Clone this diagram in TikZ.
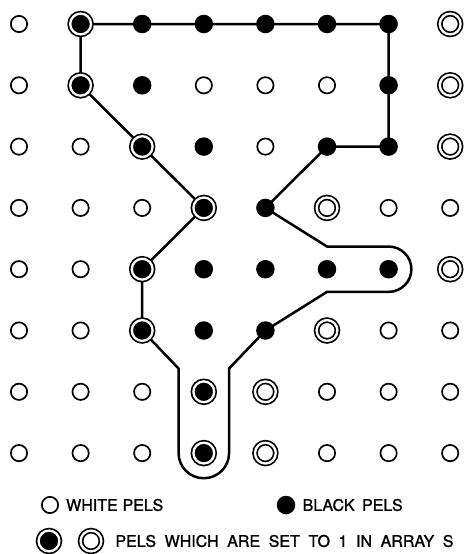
\documentclass[tikz,border=0pt]{standalone}
\usepackage{fontspec}
\newfontfamily\pelfont[FakeBold=1.2]{TeX Gyre Heros}
\usetikzlibrary{positioning,backgrounds}

\begin{document}
\begin{tikzpicture}[
    every node/.style={inner sep=0pt},
    wpel/.style={circle,draw,line width=1.7pt,minimum size=16.3pt},
    bpel/.style={circle,fill=black,minimum size=18.5pt},
    sbpel/.style={circle,draw,double=white,line width=1.7pt,double distance=2.3pt,
      fill=black,minimum size=20.8pt},
    swpel/.style={sbpel,fill=white},
    contour/.style={line width=2.5pt,line join=round},
    legtext/.style={font=\pelfont\fontsize{16}{19}\selectfont,anchor=west},
  ]
  \useasboundingbox (0,0) rectangle (466pt,-554pt);
  % pel array
  \begin{scope}[shift={(19pt,-24pt)},x=61.6pt,y=-61.3pt]
    \foreach \r/\row in {
        0/{wpel,sbpel,bpel,bpel,bpel,bpel,bpel,swpel},
        1/{wpel,sbpel,bpel,wpel,wpel,wpel,bpel,swpel},
        2/{wpel,wpel,sbpel,bpel,wpel,bpel,bpel,swpel},
        3/{wpel,wpel,wpel,sbpel,bpel,swpel,wpel,wpel},
        4/{wpel,wpel,sbpel,bpel,bpel,bpel,bpel,swpel},
        5/{wpel,wpel,sbpel,bpel,bpel,swpel,wpel,wpel},
        6/{wpel,wpel,wpel,sbpel,swpel,wpel,wpel,wpel},
        7/{wpel,wpel,wpel,sbpel,swpel,wpel,wpel,wpel}}
      \foreach \t [count=\c from 0] in \row
        \node[\t] (p\c\r) at (\c,\r) {};
    \coordinate (capa) at (5,3.63);
    \coordinate (capb) at (6,3.63);
    \coordinate (capc) at (5,4.37);
    \coordinate (tuba) at (3.41,5.62);
    \coordinate (tubb) at (3.41,7);
    \coordinate (tubc) at (2.59,5.62);
    \begin{pgfonlayer}{background}
      \draw[contour] (p10.center) -- (p60.center) -- (p62.center) -- (p52.center)
        -- (p43.center) -- (capa) -- (capb) arc[start angle=-90,end angle=90,radius=0.37]
        -- (capc) -- (p45.center) -- (tuba) -- (tubb) arc[start angle=0,end angle=180,radius=0.41]
        -- (tubc) -- (p25.center) -- (p24.center) -- (p33.center) -- (p22.center)
        -- (p11.center) -- cycle;
    \end{pgfonlayer}
  \end{scope}
  % legend
  \node[wpel] (lwhite) at (50pt,-505pt) {};
  \node[legtext,right=7pt of lwhite] (twhite) {\makebox[97pt][s]{WHITE PELS}};
  \node[bpel] (lblack) at (286pt,-505pt) {};
  \node[legtext,right=7pt of lblack] (tblack) {\makebox[100pt][s]{BLACK PELS}};
  \node[sbpel] (lsetb) at (49pt,-541pt) {};
  \node[swpel] (lsetw) at (91pt,-541pt) {};
  \node[legtext,right=13pt of lsetw] (tset) {\makebox[338pt][s]{PELS WHICH ARE SET TO 1 IN ARRAY S}};
\end{tikzpicture}
\end{document}
